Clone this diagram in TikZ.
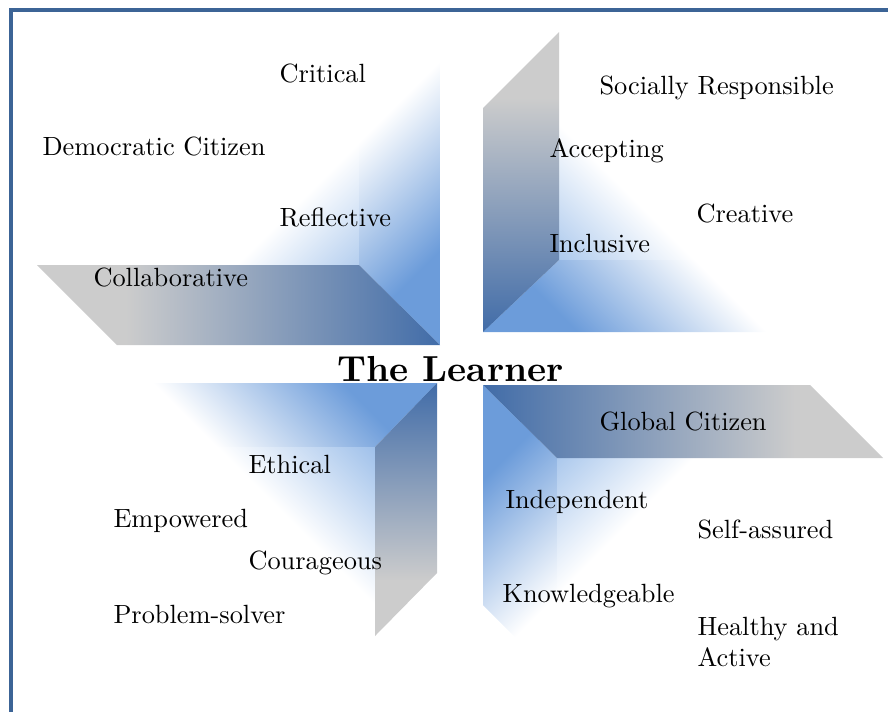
\documentclass[tikz,border=0pt]{standalone}
\usepackage{tikz}

\definecolor{frameblue}{RGB}{60,100,150}
\definecolor{strongblue}{RGB}{108,156,218}
\definecolor{liteblue}{RGB}{140,180,230}
\definecolor{panelblue}{RGB}{65,108,168}
\definecolor{panelgray}{RGB}{204,204,204}

\pgfdeclarehorizontalshading{bluefade}{100bp}{color(0bp)=(strongblue); color(25bp)=(strongblue); color(46bp)=(white); color(100bp)=(white)}
\pgfdeclarehorizontalshading{litefade}{100bp}{color(0bp)=(liteblue); color(25bp)=(liteblue); color(46bp)=(white); color(100bp)=(white)}
\pgfdeclarehorizontalshading{panelshade}{100bp}{color(0bp)=(panelgray); color(36bp)=(panelgray); color(75bp)=(panelblue); color(100bp)=(panelblue)}

\begin{document}
\begin{tikzpicture}[x=0.02cm,y=-0.02cm,
  lbl/.style={anchor=base west,inner sep=0pt,scale=1.5,font=\fontsize{10}{12}\selectfont},
  strong/.style={shading=bluefade,shading angle=#1},
  lite/.style={shading=litefade,shading angle=#1},
  panel/.style={shading=panelshade,shading angle=#1}]
\useasboundingbox (0,0) rectangle (888,711);
\clip (0,0) rectangle (888,711);

\draw[frameblue,line width=2.8pt] (11,720) -- (11,10) -- (900,10);

% top left
\begin{scope}
\clip (100,20) -- (359,20) -- (359,265) -- (100,265) -- cycle;
\shade[lite=135] (120,25) rectangle (440,345);
\end{scope}
\begin{scope}
\clip (359,20) -- (440,20) -- (440,345) -- (359,265) -- cycle;
\shade[strong=135] (120,25) rectangle (440,345);
\end{scope}
\shade[panel=0] (37,265) -- (359,265) -- (440,345) -- (117,345) -- cycle;

% top right
\begin{scope}
\clip (559,0) -- (880,0) -- (880,260) -- (559,260) -- cycle;
\shade[lite=45] (483,12) rectangle (803,332);
\end{scope}
\begin{scope}
\clip (483,332) -- (559,260) -- (880,260) -- (803,332) -- cycle;
\shade[strong=45] (483,12) rectangle (803,332);
\end{scope}
\shade[panel=-90] (483,108) -- (559,32) -- (559,260) -- (483,332) -- cycle;

% bottom left
\begin{scope}
\clip (60,383) -- (437,383) -- (375,447) -- (0,447) -- cycle;
\shade[strong=-135] (117,383) rectangle (437,703);
\end{scope}
\begin{scope}
\clip (0,447) -- (375,447) -- (375,711) -- (0,711) -- cycle;
\shade[lite=-135] (117,383) rectangle (437,703);
\end{scope}
\shade[panel=90] (375,447) -- (437,383) -- (437,573) -- (375,636) -- cycle;

% bottom right
\begin{scope}
\clip (483,385) -- (557,458) -- (557,679) -- (483,605) -- cycle;
\shade[strong=-45] (483,385) rectangle (803,705);
\end{scope}
\begin{scope}
\clip (557,458) -- (888,458) -- (888,711) -- (557,711) -- cycle;
\shade[lite=-45] (483,385) rectangle (803,705);
\end{scope}
\shade[panel=180] (483,385) -- (810,385) -- (883,458) -- (557,458) -- cycle;

% labels
\node[lbl] (critical) at (279,82) {Critical};
\node[lbl] (democratic) at (42,155) {Democratic Citizen};
\node[lbl] (reflective) at (279,226) {Reflective};
\node[lbl] (collaborative) at (93,286) {Collaborative};
\node[lbl] (socially) at (599,94) {Socially Responsible};
\node[lbl] (accepting) at (549,157) {Accepting};
\node[lbl] (creative) at (696,222) {Creative};
\node[lbl] (inclusive) at (549,252) {Inclusive};
\node[anchor=base west,inner sep=0pt,scale=2.06,font=\fontsize{10}{12}\selectfont\bfseries] (learner) at (337,381) {The Learner};
\node[lbl] (global) at (599,430) {Global Citizen};
\node[lbl] (ethical) at (248,473) {Ethical};
\node[lbl] (empowered) at (113,527) {Empowered};
\node[lbl] (courageous) at (248,569) {Courageous};
\node[lbl] (problem) at (113,623) {Problem-solver};
\node[lbl] (independent) at (505,508) {Independent};
\node[lbl] (selfassured) at (697,538) {Self-assured};
\node[lbl] (knowledgeable) at (502,602) {Knowledgeable};
\node[lbl,anchor=north west,align=left,font=\fontsize{10}{11.76}\selectfont] (healthy) at (697,616.6) {Healthy and\\Active};
\end{tikzpicture}
\end{document}
